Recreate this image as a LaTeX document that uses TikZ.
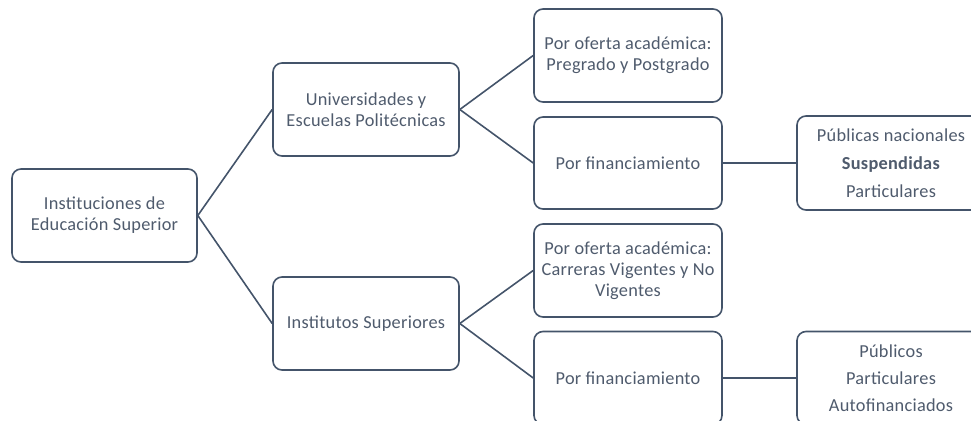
\documentclass[tikz,border=0pt]{standalone}
\usepackage{fontspec}
\setmainfont{Carlito}[LetterSpace=1.5]
\definecolor{boxline}{HTML}{44546A}
\definecolor{txt}{HTML}{4F5B6D}
\begin{document}
\begin{tikzpicture}[x=1pt,y=-1pt,
  box/.style={draw=boxline, line width=1.6pt, rounded corners=9pt, fill=white,
    minimum width=#1, minimum height=93pt, inner sep=0pt, align=center,
    text=txt, font=\fontsize{18.3}{21}\selectfont},
  box/.default=188pt,
  conn/.style={draw=boxline, line width=1.6pt}]
\useasboundingbox (0,0) rectangle (971,420);
\node[box=185pt] (root) at (104.5,215.5) {Instituciones de\\Educación Superior};
\node[box=186pt] (univ) at (366,109.5) {Universidades y\\Escuelas Politécnicas};
\node[box=186pt] (inst) at (366,323.5) {Institutos Superiores};
\node[box] (po1) at (628,55.5) {Por oferta académica:\\Pregrado y Postgrado};
\node[box, minimum height=92pt] (pf1) at (628,163) {Por financiamiento};
\node[box] (po2) at (628,270.5) {Por oferta académica:\\Carreras Vigentes y No\\Vigentes};
\node[box] (pf2) at (628,378) {Por financiamiento};
\node[box, minimum height=94pt] (pn) at (891,163) {Públicas nacionales\\[7pt]\textbf{Suspendidas}\\[7pt]Particulares};
\node[box] (pb) at (891,378) {Públicos\\[6pt]Particulares\\[6pt]Autofinanciados};
\draw[conn] (root.east) -- (univ.west);
\draw[conn] (root.east) -- (inst.west);
\draw[conn] (univ.east) -- (po1.west);
\draw[conn] (univ.east) -- (pf1.west);
\draw[conn] (inst.east) -- (po2.west);
\draw[conn] (inst.east) -- (pf2.west);
\draw[conn] (pf1.east) -- (pn.west);
\draw[conn] (pf2.east) -- (pb.west);
\end{tikzpicture}
\end{document}
